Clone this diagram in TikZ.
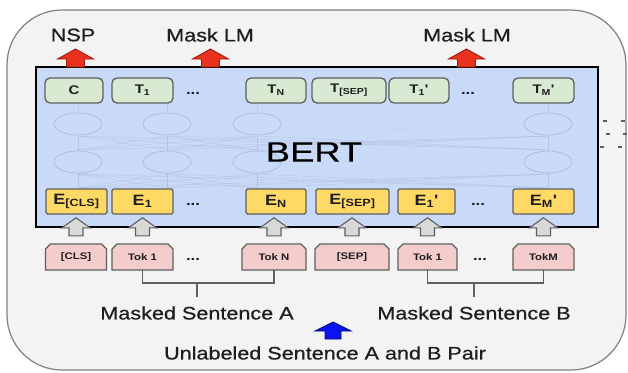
\documentclass[tikz,border=0pt]{standalone}
\usepackage{fontspec}
\setmainfont{Liberation Sans}
\newfontfamily\wfont{Liberation Sans}[FakeStretch=1.2]
\newfontfamily\labfont{Liberation Sans}[FakeStretch=1.2, FakeBold=0.7]
\newfontfamily\bertfont{Liberation Sans}[FakeStretch=1.3, FakeBold=0.4]
\usetikzlibrary{calc}
\definecolor{outerfill}{HTML}{F3F3F3}
\definecolor{outerline}{HTML}{808080}
\definecolor{bertblue}{HTML}{C9DAF8}
\definecolor{tgreen}{HTML}{D9EAD3}
\definecolor{egold}{HTML}{FFD966}
\definecolor{tpink}{HTML}{F4CCCC}
\definecolor{boxline}{HTML}{5F5F5F}
\definecolor{txt}{HTML}{1E1E1E}
\definecolor{redfill}{HTML}{E8321E}
\definecolor{redline}{HTML}{9E1B10}
\definecolor{greyfill}{HTML}{D9D9D9}
\definecolor{bluefill}{HTML}{0A14F0}
\definecolor{blueline}{HTML}{00107A}
\definecolor{faintc}{HTML}{AEBBD3}
\newcommand\tokbox[4]{%
  \draw[tokline] ({#2-#3/2},270) -- ({#2-#3/2},249) -- ({#2-#3/2+5},244) -- ({#2+#3/2-5},244) -- ({#2+#3/2},249) -- ({#2+#3/2},270) -- cycle;
  \node[toktext, minimum width=#3] (#1) at (#2,257) {#4};}
\newcommand\garrow[1]{%
  \draw[garr] ($(#1.north)+(0,-26)$) -- ++(14,10) -- ++(-7,0) -- ++(0,8) -- ++(-14,0) -- ++(0,-8) -- ++(-7,0) -- cycle;}
\newcommand\rarrow[1]{%
  \draw[rarr] (#1) ++(9,0) -- ++(0,-8) -- ++(9,0) -- ++(-18,-10) -- ++(-18,10) -- ++(9,0) -- ++(0,8) -- cycle;}
\begin{document}
\begin{tikzpicture}[x=1pt,y=-1pt,
  outer/.style={draw=outerline, line width=1.2pt, fill=outerfill, rounded corners=55pt},
  bertbox/.style={draw=black, line width=2.4pt, fill=bertblue, inner sep=0pt, minimum width=562pt, minimum height=160pt},
  tbox/.style={draw=boxline, line width=1.3pt, fill=tgreen, rounded corners=5pt, minimum height=25pt, inner sep=0pt, text=txt, font=\wfont\bfseries\fontsize{12.5}{12.5}\selectfont},
  ebox/.style={draw=boxline, line width=1.2pt, fill=egold, rounded corners=1.5pt, minimum height=25pt, inner sep=0pt, text=txt, font=\wfont\bfseries\fontsize{15}{15}\selectfont},
  tokline/.style={draw=boxline, line width=1.1pt, fill=tpink},
  toktext/.style={minimum height=26pt, inner sep=0pt, text=txt, font=\wfont\bfseries\fontsize{9.5}{9.5}\selectfont},
  dots/.style={inner sep=0pt, text=txt, font=\wfont\bfseries\fontsize{14}{14}\selectfont},
  lab/.style={inner sep=0pt, text=txt, font=\labfont\fontsize{18}{18}\selectfont},
  garr/.style={draw=boxline, line width=1.1pt, fill=greyfill, line join=miter},
  rarr/.style={draw=redline, line width=0.9pt, fill=redfill},
  barr/.style={draw=blueline, line width=0.9pt, fill=bluefill},
  br/.style={draw=boxline, line width=1.2pt},
  faint/.style={draw=faintc, line width=0.6pt, opacity=0.45},
  faintell/.style={draw=faintc, line width=0.7pt, fill=bertblue}
]
\useasboundingbox (0,0) rectangle (628,372);
\fill[white] (0,0) rectangle (628,372);
\draw[outer] (7,10) rectangle (626,370);

% BERT box
\node[bertbox] (bert) at (317,147) {};

% faint internal structure
\foreach \a in {78,167,257,548}{
  \draw[faint] (\a,104) -- (\a,188);
  \foreach \b in {78,167,257,548}{
    \draw[faint] (\a,136) -- (\b,150);
    \draw[faint] (\a,174) -- (\b,188);
  }
}
\foreach \a in {78,167,257,548}{
  \draw[faintell] (\a,124) ellipse (24pt and 11pt);
  \draw[faintell] (\a,162) ellipse (24pt and 11pt);
}
\node[inner sep=0pt, text=faintc, font=\wfont\fontsize{9}{9}\selectfont] (fd1) at (400,129) {...};
\node[inner sep=0pt, text=faintc, font=\wfont\fontsize{9}{9}\selectfont] (fd2) at (400,165) {...};

\node[inner sep=0pt, text=black, font=\bertfont\fontsize{28}{28}\selectfont] (berttxt) at (314,152) {BERT};

% top T boxes
\node[tbox, minimum width=58pt] (tc) at (74,90.5) {C};
\node[tbox, minimum width=61pt] (t1) at (142.5,90.5) {T\textsubscript{1}};
\node[dots] (td1) at (193,93) {...};
\node[tbox, minimum width=60pt] (tn) at (276,90.5) {T\textsubscript{N}};
\node[tbox, minimum width=74pt] (tsep) at (349,90.5) {T\textsubscript{[SEP]}};
\node[tbox, minimum width=60pt] (t1b) at (419,90.5) {T\textsubscript{1}'};
\node[dots] (td2) at (468,93) {...};
\node[tbox, minimum width=61pt] (tm) at (543.5,90.5) {T\textsubscript{M}'};

% E boxes
\node[ebox, minimum width=61pt] (ecls) at (76.5,201.5) {E\textsubscript{[CLS]}};
\node[ebox, minimum width=61pt] (e1) at (142.5,201.5) {E\textsubscript{1}};
\node[dots] (ed1) at (193,204) {...};
\node[ebox, minimum width=60pt] (en) at (276,201.5) {E\textsubscript{N}};
\node[ebox, minimum width=73pt] (esep) at (352.5,201.5) {E\textsubscript{[SEP]}};
\node[ebox, minimum width=57pt] (e1b) at (426.5,201.5) {E\textsubscript{1}'};
\node[dots] (ed2) at (478,204) {...};
\node[ebox, minimum width=61pt] (em) at (543.5,201.5) {E\textsubscript{M}'};

% token boxes
\tokbox{tkcls}{76}{61}{[CLS]}
\tokbox{tkA1}{142.5}{61}{Tok 1}
\node[dots] (kd1) at (193,259) {...};
\tokbox{tkAN}{274}{64}{Tok N}
\tokbox{tksep}{352}{74}{[SEP]}
\tokbox{tkB1}{427.5}{59}{Tok 1}
\node[dots] (kd2) at (480,259) {...};
\tokbox{tkBM}{543.5}{61}{TokM}

% grey arrows token -> embedding
\garrow{tkcls}
\garrow{tkA1}
\garrow{tkAN}
\garrow{tksep}
\garrow{tkB1}
\garrow{tkBM}

% top labels and red arrows
\node[lab] (nsp) at (73,35) {NSP};
\node[lab] (mlm1) at (210,35) {Mask LM};
\node[lab] (mlm2) at (467,35) {Mask LM};
\coordinate (ra1) at (75.5,67);
\coordinate (ra2) at (210.5,67);
\coordinate (ra3) at (466.5,67);
\rarrow{ra1}
\rarrow{ra2}
\rarrow{ra3}

% bottom labels
\node[lab] (labA) at (197,313) {Masked Sentence A};
\node[lab] (labB) at (474,313) {Masked Sentence B};
\node[lab] (pair) at (325,353) {Unlabeled Sentence A and B Pair};

% brackets
\draw[br] (tkA1.south) -- (tkA1.south |- 0,283) -- (tkAN.south |- 0,283) -- (tkAN.south);
\draw[br] (labA.north |- 0,283) -- (labA.north |- 0,297);
\draw[br] (tkB1.south) -- (tkB1.south |- 0,283) -- (tkBM.south |- 0,283) -- (tkBM.south);
\draw[br] (labB.north |- 0,283) -- (labB.north |- 0,297);

% blue arrow
\coordinate (ba) at (333,339);
\draw[barr] (ba) ++(8,0) -- ++(0,-8) -- ++(10,0) -- ++(-18,-9) -- ++(-18,9) -- ++(10,0) -- ++(0,8) -- cycle;

% dots at right edge
\foreach \px/\py in {603/120, 621/120, 606/133, 623/133, 600/146, 618/146}{
  \fill[boxline] (\px,\py) rectangle ++(3.5,2.2);
}
\end{tikzpicture}
\end{document}
